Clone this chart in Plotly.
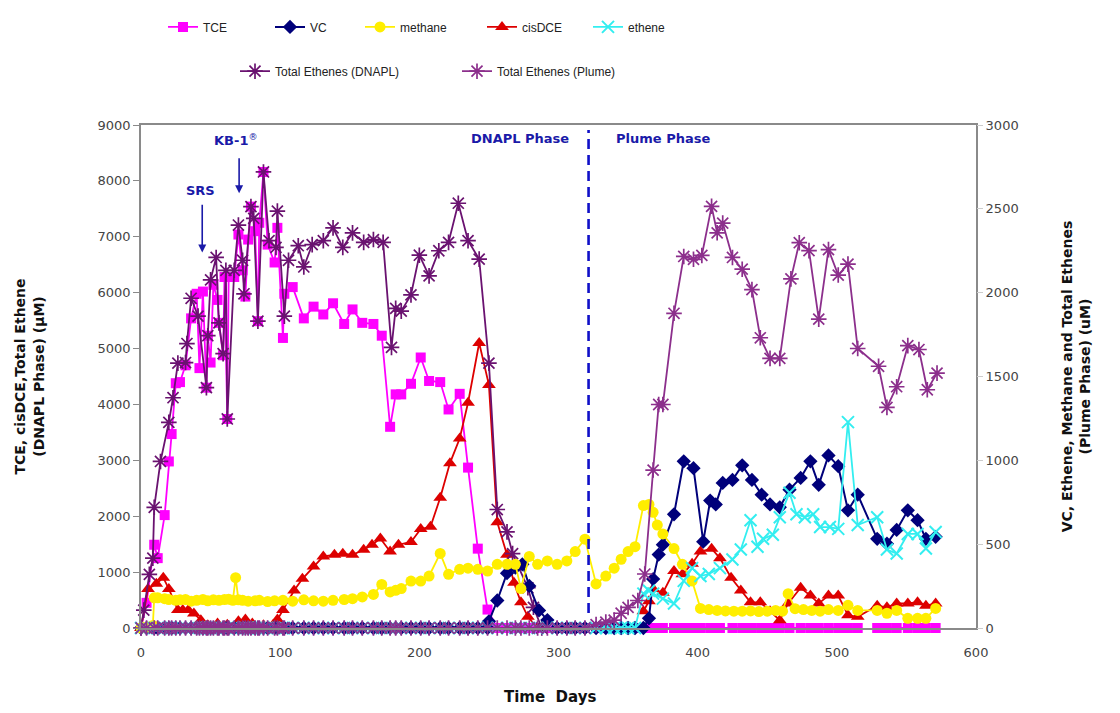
import plotly.graph_objects as go

# ---- sampling days and concentrations ----
# DNAPL-phase sampling days (also used for the zero baselines of the plume analytes)
tce_days = [0, 4, 9.5, 12, 17, 20, 22, 25, 28, 32, 36, 40, 42, 44.5, 47, 48, 50, 52, 55, 56,
            59, 60, 62, 63, 67, 70, 73, 75, 77, 79, 82, 84, 85, 88, 91, 96, 98, 102, 103, 109,
            117, 124, 131, 138, 146, 152, 159, 167, 173, 179, 183, 187, 194, 201, 207, 215, 221,
            229, 235, 242, 249]
tce_vals = [0, 450, 1490, 1250, 2020, 2980, 3470, 4380, 4400, 4700, 5540, 5980, 4650, 6020, 4300,
            5230, 4750, 6140, 5870, 5460, 4880, 6280, 3740, 6280, 6280, 7040, 6400, 5930, 6950,
            7540, 7100, 5490, 7250, 8160, 6860, 6540, 7160, 5190, 5980, 6100, 5540, 5750, 5610,
            5810, 5440, 5700, 5460, 5440, 5230, 3600, 4180, 4180, 4370, 4840, 4420, 4400, 3910,
            4190, 2870, 1420, 330]
# days after the DNAPL phase where TCE was at zero (sampling gap around day 520)
tce_zero_days_a = [256, 263, 269, 273, 279, 285, 292, 299, 306, 312, 319, 327, 334, 340, 345,
                   350, 355, 361, 365, 368, 372, 375, 383, 390, 396, 402, 409, 416, 425, 432,
                   439, 446, 452, 459, 466, 474, 481, 487, 494, 501, 508, 515]
tce_zero_days_b = [529, 536, 543, 551, 558, 564, 571]

mid_days = [256, 263, 269, 273, 279, 285, 292, 299, 306, 312, 319, 327, 334, 340, 345, 350, 355]

vc_rise_days = [250, 256, 263, 269, 274, 279, 286, 292]
vc_rise_vals = [40, 164, 327, 360, 380, 251, 105, 47]
vc_quiet_days = [299, 306, 312, 319, 327, 334, 340, 345, 350, 355, 361]
vc_plume_days = [365, 368, 372, 375, 383, 390, 397, 404, 409, 413, 418, 425, 432, 439, 446, 452,
                 459, 466, 474, 481, 487, 494, 501, 508, 515, 529, 536, 543, 551, 558, 564, 571]
vc_plume_vals = [58, 292, 438, 497, 678, 994, 953, 515, 760, 737, 865, 883, 970, 883, 795, 737,
                 720, 825, 895, 994, 854, 1029, 965, 702, 795, 532, 503, 585, 702, 643, 532, 544]

methane_days = [0, 1, 5, 8.5, 9.5, 12, 17, 20, 25, 28, 32, 36, 40, 44.5, 48, 52, 56, 60, 63, 66,
                68, 70, 73, 77, 82, 85, 91, 96, 102, 109, 117, 124, 131, 138, 146, 152, 159, 167,
                173, 179, 183, 187, 194, 201, 207, 215, 221, 229, 235, 242, 249, 256, 263, 269,
                273, 279, 285, 292, 299, 306, 312, 319, 327, 334, 340, 345, 350, 355, 361, 365,
                368, 371, 375, 383, 389, 396, 402, 408, 414, 420, 426, 432, 438, 444, 450, 456,
                461, 465, 470, 476, 482, 488, 494, 501, 508, 515, 529, 536, 543, 551, 558, 564, 571]
methane_vals = [0, 5, 5, 15, 180, 180, 175, 170, 165, 168, 170, 160, 165, 170, 162, 168, 165, 170,
                172, 165, 300, 168, 165, 160, 162, 165, 158, 162, 165, 160, 168, 162, 160, 165,
                170, 175, 185, 200, 260, 215, 225, 235, 280, 280, 310, 445, 320, 350, 357, 350,
                340, 380, 380, 380, 235, 427, 380, 400, 380, 400, 456, 530, 263, 310, 357, 410,
                456, 485, 730, 737, 690, 614, 561, 474, 380, 281, 117, 110, 105, 102, 100, 100,
                102, 98, 100, 105, 100, 205, 115, 110, 105, 100, 110, 105, 135, 105, 105, 88, 105,
                58, 58, 58, 117]

cis_days = [0, 5, 11, 16, 20, 26.5, 30, 34, 38, 43, 48, 55, 62, 70, 75, 80, 88, 95, 98, 102,
            110, 116, 124, 131, 139, 145, 152, 160, 166, 172, 179, 185, 194, 201, 208, 215, 222,
            229, 235, 243, 250, 256, 263, 268, 273, 278, 285]
cis_vals = [0, 700, 790, 900, 700, 320, 320, 320, 260, 140, 50, 80, 60, 120, 150, 80, 50, 60,
            150, 320, 670, 880, 1100, 1280, 1310, 1330, 1310, 1400, 1490, 1600, 1370, 1490, 1540,
            1770, 1810, 2330, 2950, 3390, 4030, 5100, 4350, 1890, 1310, 810, 460, 200, 0]
cis_plume_days = [361, 365, 368, 375, 383, 389, 396, 402, 410, 416, 424, 431, 438, 445, 452, 459,
                  465, 474, 481, 487, 494, 501, 508, 515, 529, 536, 543, 551, 558, 564, 571]
cis_plume_vals = [300, 480, 700, 630, 1020, 960, 1150, 1370, 1420, 1250, 900, 670, 460, 460, 300,
                  140, 440, 720, 580, 440, 580, 580, 230, 200, 400, 370, 440, 440, 460, 400, 440]

ethene_plume_days = [361, 365, 368, 375, 383, 390, 396, 402, 408, 416, 425, 431, 438, 443, 447,
                     454, 459, 466, 471, 477, 483, 488, 495, 501, 508, 515, 529, 536, 543, 551,
                     558, 564, 571]
ethene_plume_vals = [205, 222, 205, 175, 146, 281, 357, 310, 322, 357, 409, 468, 643, 485, 532,
                     556, 661, 807, 678, 661, 678, 602, 602, 591, 1228, 614, 661, 468, 444, 561,
                     561, 474, 573]

te_dnapl_days = [0, 2, 6, 8.5, 9.5, 14, 20, 23, 26.5, 32, 33, 36, 41, 47, 48, 50, 54, 56, 59, 61,
                 62, 67, 70, 73, 74, 79, 81, 84, 88, 92, 97, 98, 103, 106, 113, 117, 123, 131,
                 138, 145, 152, 160, 167, 174, 180, 183, 187, 194, 200, 207, 214, 221, 228, 235,
                 243, 250, 256, 263, 267, 278, 282, 288]
te_dnapl_vals = [0, 320, 960, 1250, 2160, 2980, 3680, 4120, 4740, 4750, 5090, 5900, 5580, 4300,
                 5230, 6230, 6630, 5460, 4910, 6400, 3740, 6400, 7210, 6580, 5980, 7540, 7330,
                 5490, 8160, 6930, 6810, 7460, 5580, 6580, 6840, 6460, 6860, 6930, 7160, 6810,
                 7070, 6900, 6950, 6900, 5020, 5720, 5670, 5960, 6670, 6300, 6750, 6900, 7600,
                 6930, 6600, 4740, 2120, 1720, 1330, 720, 370, 0]

te_plume_days = [327, 334, 340, 345, 350, 357, 362, 368, 372, 375, 383, 390, 397, 403, 410, 414,
                 418, 425, 432, 439, 445, 452, 459, 467, 473, 480, 487, 494, 501, 508, 515, 530,
                 536, 543, 551, 559, 565, 572]
te_plume_vals = [20, 35, 47, 88, 123, 164, 322, 942, 1333, 1333, 1877, 2216, 2199, 2222, 2515,
                 2357, 2415, 2210, 2140, 2018, 1731, 1608, 1608, 2082, 2298, 2251, 1842, 2257,
                 2105, 2170, 1667, 1561, 1316, 1439, 1684, 1661, 1421, 1520]

x_ticks = [0, 100, 200, 300, 400, 500, 600]
phase_split_day = 321.6

# ---- assemble full series (zero baselines included) ----
tce_x = tce_days + tce_zero_days_a + [None] + tce_zero_days_b
tce_y = tce_vals + [0] * len(tce_zero_days_a) + [None] + [0] * len(tce_zero_days_b)

vc_x = tce_days + vc_rise_days + vc_quiet_days + vc_plume_days
vc_y = [0] * len(tce_days) + vc_rise_vals + [0] * len(vc_quiet_days) + vc_plume_vals

cis_x = cis_days + [None] + cis_plume_days
cis_y = cis_vals + [None] + cis_plume_vals

eth_x = tce_days + mid_days + ethene_plume_days
eth_y = [0] * (len(tce_days) + len(mid_days)) + ethene_plume_vals

tep_zero = tce_days + mid_days[:11]
tep_x = tep_zero + te_plume_days
tep_y = [0] * len(tep_zero) + te_plume_vals

C_TCE = "#ff00ff"
C_VC = "#00007a"
C_METH = "#ffee00"
C_CIS = "#dd0000"
C_ETH = "#33eef0"
C_TED = "#6a1270"
C_TEP = "#8c2f8c"

# plot area in pixels, used to place the legend entries
PLOT_L, PLOT_R = 141, 976
PLOT_W = PLOT_R - PLOT_L

fig = go.Figure()


def series(x, y, name, color, symbol, size, yaxis, legend, lw=1.8, open_sym=False, mlw=0):
    marker = dict(symbol=symbol, size=size, color=color)
    if open_sym:
        marker["line"] = dict(color=color, width=mlw)
    else:
        marker["line"] = dict(width=0)
    fig.add_trace(go.Scatter(
        x=x, y=y, name=name, mode="lines+markers", yaxis=yaxis, legend=legend,
        line=dict(color=color, width=lw), marker=marker, cliponaxis=False,
        connectgaps=False,
    ))


series(tce_x, tce_y, "TCE", C_TCE, "square", 10, "y", "legend")
series(vc_x, vc_y, "VC", C_VC, "diamond", 11, "y2", "legend2", lw=2)
series(methane_days, methane_vals, "methane", C_METH, "circle", 11, "y2", "legend3")
series(cis_x, cis_y, "cisDCE", C_CIS, "triangle-up", 12, "y", "legend4")
series(eth_x, eth_y, "ethene", C_ETH, "x-thin", 12, "y2", "legend5", open_sym=True, mlw=2)
series(te_dnapl_days, te_dnapl_vals, "Total Ethenes (DNAPL)", C_TED, "asterisk", 13, "y",
       "legend6", open_sym=True, mlw=1.7)
series(tep_x, tep_y, "Total Ethenes (Plume)", C_TEP, "asterisk", 13, "y2", "legend7",
       open_sym=True, mlw=1.7)

# phase boundary
fig.add_shape(type="line", xref="x", yref="paper", x0=phase_split_day, x1=phase_split_day,
              y0=0.03, y1=0.99, line=dict(color="#1010c8", width=2.6, dash="10px,6px"))

ann_font = dict(family="DejaVu Sans", size=13, color="#1a1aa8")
fig.add_annotation(x=272, y=8760, xref="x", yref="y", text="<b>DNAPL Phase</b>",
                   showarrow=False, font=ann_font)
fig.add_annotation(x=375, y=8760, xref="x", yref="y", text="<b>Plume Phase</b>",
                   showarrow=False, font=ann_font)
fig.add_annotation(x=43, y=7820, xref="x", yref="y", text="<b>SRS</b>",
                   showarrow=False, font=ann_font)
fig.add_annotation(x=68, y=8740, xref="x", yref="y", text="<b>KB-1</b><sup>®</sup>",
                   showarrow=False, font=ann_font)
for xd, y_tail, y_tip in [(44, 7600, 6720), (70.5, 8430, 7780)]:
    fig.add_annotation(x=xd, y=y_tip, ax=xd, ay=y_tail, xref="x", yref="y", axref="x",
                       ayref="y", text="", showarrow=True, arrowhead=2, arrowsize=1,
                       arrowwidth=1.6, arrowcolor="#1a1aa8")

tick_font = dict(family="DejaVu Sans", size=13, color="#444444")
title_font = dict(family="DejaVu Sans", size=14, color="#111111")
axis_line = "#8a8a8a"
legend_font = dict(family="Liberation Sans", size=12, color="#222222")

# x-axis title
fig.add_annotation(x=(550 - PLOT_L) / PLOT_W, y=-0.137, xref="paper", yref="paper",
                   xanchor="center", yanchor="middle",
                   text="<b>Time\u00a0\u00a0Days</b>", showarrow=False,
                   font=dict(family="DejaVu Sans", size=15, color="#111111"))

# one legend box per entry so each sits where it belongs in the two-row key
legend_slots = {
    "legend": (163, 1.195), "legend2": (270, 1.195), "legend3": (360, 1.195),
    "legend4": (482, 1.195), "legend5": (588, 1.195),
    "legend6": (235, 1.107), "legend7": (457, 1.107),
}
legend_layout = {
    key: dict(orientation="h", x=(px - PLOT_L) / PLOT_W, y=yy, xanchor="left",
              yanchor="middle", bgcolor="rgba(0,0,0,0)", font=legend_font)
    for key, (px, yy) in legend_slots.items()
}

fig.update_layout(
    width=1120, height=713,
    margin=dict(l=141, r=144, t=115, b=85),
    paper_bgcolor="white", plot_bgcolor="white",
    showlegend=True,
    **legend_layout,
    xaxis=dict(range=[0, 600], tickvals=x_ticks, showgrid=False, zeroline=False,
               showline=True, linecolor=axis_line, linewidth=1.5, mirror=True,
               ticks="outside", ticklen=12, tickcolor="rgba(0,0,0,0)", tickfont=tick_font),
    yaxis=dict(range=[0, 9000], dtick=1000, showgrid=False, zeroline=False,
               showline=True, linecolor=axis_line, linewidth=1.5, mirror=True,
               ticks="outside", ticklen=6, tickcolor=axis_line, tickfont=tick_font,
               title=dict(text="<b>TCE, cisDCE,Total Ethene<br>(DNAPL Phase) (µM)</b>",
                          font=title_font, standoff=50)),
    yaxis2=dict(range=[0, 3000], dtick=500, overlaying="y", side="right", showgrid=False,
                zeroline=False, showline=False, ticks="outside", ticklen=6,
                tickcolor="#cccccc", tickfont=tick_font,
                title=dict(text="<b>VC, Ethene, Methane and Total Ethenes<br>(Plume Phase) (uM)</b>",
                           font=title_font, standoff=44)),
)

fig.write_html("out.html")
